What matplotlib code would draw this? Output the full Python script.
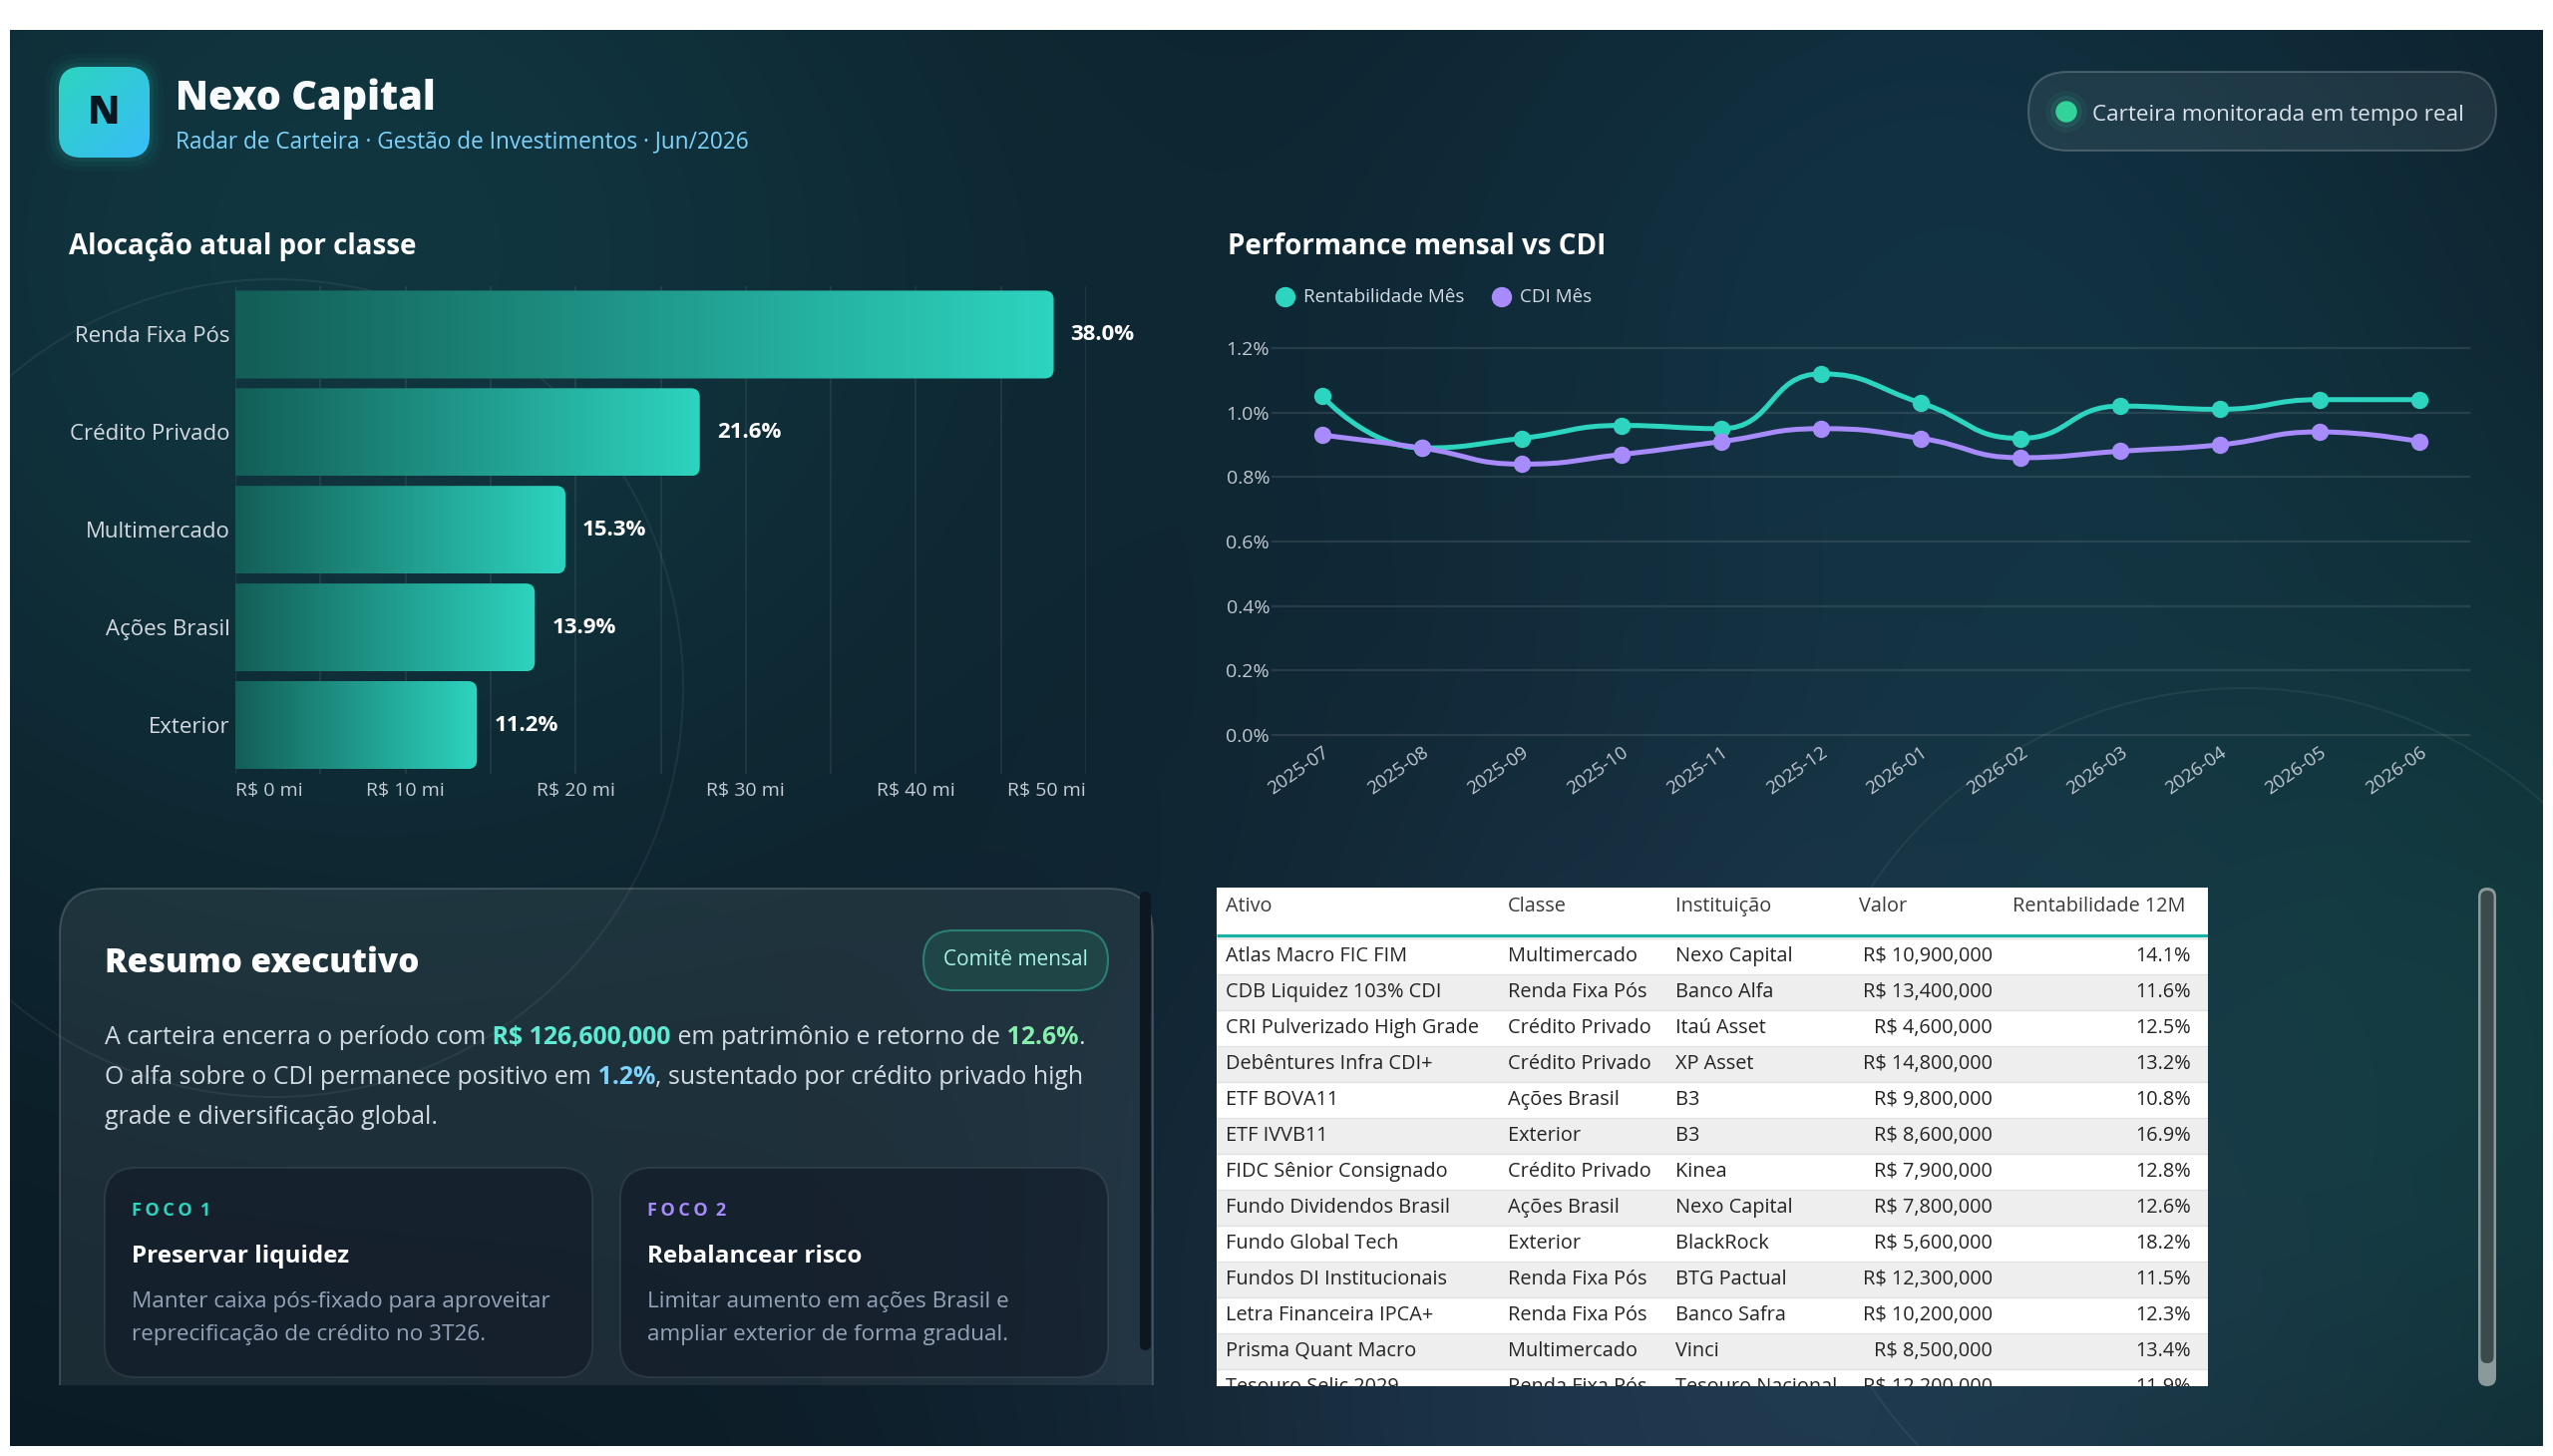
import numpy as np
import matplotlib.pyplot as plt
from matplotlib.patches import FancyBboxPatch, Circle, Rectangle, PathPatch
from matplotlib.path import Path
from matplotlib.colors import LinearSegmentedColormap
from matplotlib.transforms import ScaledTranslation

plt.rcParams['font.family'] = ['Open Sans', 'DejaVu Sans']

# ---------------- data ----------------
classes = ['Renda Fixa Pós', 'Crédito Privado', 'Multimercado', 'Ações Brasil', 'Exterior']
alloc_mi = [48.1, 27.3, 19.4, 17.6, 14.2]
alloc_pct = [38.0, 21.6, 15.3, 13.9, 11.2]
alloc_ticks = [0, 10, 20, 30, 40, 50]

months = ['2025-07', '2025-08', '2025-09', '2025-10', '2025-11', '2025-12',
          '2026-01', '2026-02', '2026-03', '2026-04', '2026-05', '2026-06']
rent_mes = [1.05, 0.89, 0.92, 0.96, 0.95, 1.12, 1.03, 0.92, 1.02, 1.01, 1.04, 1.04]
cdi_mes = [0.93, 0.89, 0.84, 0.87, 0.91, 0.95, 0.92, 0.86, 0.88, 0.90, 0.94, 0.91]
perf_ticks = [0.0, 0.2, 0.4, 0.6, 0.8, 1.0, 1.2]

tab_header = ['Ativo', 'Classe', 'Instituição', 'Valor', 'Rentabilidade 12M']
tab_ativo = ['Atlas Macro FIC FIM', 'CDB Liquidez 103% CDI', 'CRI Pulverizado High Grade',
             'Debêntures Infra CDI+', 'ETF BOVA11', 'ETF IVVB11', 'FIDC Sênior Consignado',
             'Fundo Dividendos Brasil', 'Fundo Global Tech', 'Fundos DI Institucionais',
             'Letra Financeira IPCA+', 'Prisma Quant Macro', 'Tesouro Selic 2029']
tab_classe = ['Multimercado', 'Renda Fixa Pós', 'Crédito Privado', 'Crédito Privado',
              'Ações Brasil', 'Exterior', 'Crédito Privado', 'Ações Brasil', 'Exterior',
              'Renda Fixa Pós', 'Renda Fixa Pós', 'Multimercado', 'Renda Fixa Pós']
tab_inst = ['Nexo Capital', 'Banco Alfa', 'Itaú Asset', 'XP Asset', 'B3', 'B3', 'Kinea',
            'Nexo Capital', 'BlackRock', 'BTG Pactual', 'Banco Safra', 'Vinci', 'Tesouro Nacional']
tab_valor = [10900000, 13400000, 4600000, 14800000, 9800000, 8600000, 7900000,
             7800000, 5600000, 12300000, 10200000, 8500000, 12200000]
tab_rent = [14.1, 11.6, 12.5, 13.2, 10.8, 16.9, 12.8, 12.6, 18.2, 11.5, 12.3, 13.4, 11.9]

patrimonio = 126600000
retorno_12m = 12.6
alfa_cdi = 1.2

TEAL = '#2dd4bf'
PURPLE = '#a78bfa'

W, H = 2560, 1460
fig = plt.figure(figsize=(W / 100, H / 100), dpi=100, facecolor='white')


def px_box(x0, y0, x1, y1):
    return [x0 / W, 1 - y1 / H, (x1 - x0) / W, (y1 - y0) / H]


def rbox(ax, x, y, w, h, r, **kw):
    p = FancyBboxPatch((x, y), w, h, boxstyle=f'round,pad=0,rounding_size={r}', **kw)
    ax.add_patch(p)
    return p


# ---------------- background overlay (pixel coords) ----------------
ov = fig.add_axes([0, 0, 1, 1])
ov.set_axis_off()

yy, xx = np.mgrid[30:1450:4, 10:2550:4].astype(float)
img = np.zeros(xx.shape + (3,)) + np.array([11, 26, 36], float)
glows = [((350, 250), 520, (6, 28, 28)),
         ((1950, 250), 450, (6, 22, 28)),
         ((1750, 1420), 460, (20, 28, 40)),
         ((2580, 1050), 400, (4, 26, 18))]
for (cx, cy), s, col in glows:
    g = np.exp(-((xx - cx) ** 2 + (yy - cy) ** 2) / (2 * s * s))
    img += g[..., None] * np.array(col, float)
ov.imshow(np.clip(img / 255, 0, 1), extent=(10, 2550, 1450, 30), interpolation='bilinear', zorder=0)
ov.set_xlim(0, W)
ov.set_ylim(H, 0)
ov.set_aspect('auto')

panel_clip = Rectangle((10, 30), 2540, 1420, transform=ov.transData)
for c in [Circle((275, 690), 410), Circle((2250, 1140), 450)]:
    c.set_facecolor('none')
    c.set_edgecolor((1, 1, 1, 0.06))
    c.set_linewidth(1.5)
    c.set_zorder(1)
    ov.add_patch(c)
    c.set_clip_path(panel_clip)

# header: logo
for k, a in [(14, 0.03), (9, 0.05), (4, 0.08)]:
    rbox(ov, 59 - k, 67 - k, 91 + 2 * k, 91 + 2 * k, 22 + k, facecolor=TEAL, alpha=a,
         edgecolor='none', zorder=2)
logo = rbox(ov, 59, 67, 91, 91, 22, facecolor='none', edgecolor='none', zorder=3)
lg = np.add.outer(np.linspace(0, 1, 64), np.linspace(0, 1, 64)) / 2
im = ov.imshow(lg, extent=(59, 150, 158, 67), cmap=LinearSegmentedColormap.from_list('lg', [TEAL, '#38bdf8']),
               interpolation='bilinear', zorder=3)
im.set_clip_path(logo)
ov.set_xlim(0, W)
ov.set_ylim(H, 0)
ov.set_aspect('auto')
ov.text(104.5, 114, 'N', color='#0b1620', fontsize=28, fontweight='heavy', ha='center', va='center', zorder=4)
ov.text(176, 110, 'Nexo Capital', color='#f8fafc', fontsize=28.5, fontweight='heavy', va='baseline', zorder=4)
ov.text(176, 148, 'Radar de Carteira · Gestão de Investimentos · Jun/2026', color='#7dd3fc',
        fontsize=16.3, va='baseline', zorder=4)

# status pill
rbox(ov, 2034, 72, 469, 79, 39.5, facecolor=(1, 1, 1, 0.07), edgecolor=(1, 1, 1, 0.2), lw=1.5, zorder=2)
for r, a in [(20, 0.06), (15, 0.1)]:
    ov.add_patch(Circle((2072, 112), r, color='#34d399', alpha=a, zorder=3))
ov.add_patch(Circle((2072, 112), 10, color='#34d399', zorder=3))
ov.text(2098, 121, 'Carteira monitorada em tempo real', color='#dbe3ea', fontsize=16.2,
        va='baseline', zorder=4)

# section titles
ov.text(69, 255, 'Alocação atual por classe', color='white', fontsize=20, fontweight='bold',
        va='baseline', zorder=4)
ov.text(1231, 255, 'Performance mensal vs CDI', color='white', fontsize=20, fontweight='bold',
        va='baseline', zorder=4)

# legend of line chart
ov.add_patch(Circle((1289, 298), 9.5, color=TEAL, zorder=4))
ov.text(1307, 298, 'Rentabilidade Mês', color='#d5dde5', fontsize=13.5, va='center', zorder=4)
ov.add_patch(Circle((1506, 298), 9.5, color=PURPLE, zorder=4))
ov.text(1524, 298, 'CDI Mês', color='#d5dde5', fontsize=13.5, va='center', zorder=4)

# ---------------- summary card ----------------
card_clip = Rectangle((0, 0), W, 1389, transform=ov.transData)
card = rbox(ov, 60, 891, 1096, 600, 45, facecolor=(1, 1, 1, 0.07), edgecolor=(1, 1, 1, 0.16),
            lw=1.5, zorder=2)
card.set_clip_path(card_clip)
rbox(ov, 1143, 894, 11, 460, 5.5, facecolor='#0e1720', edgecolor='none', zorder=3)

ov.text(105, 975, 'Resumo executivo', color='white', fontsize=24, fontweight='heavy',
        va='baseline', zorder=4)
rbox(ov, 926, 933, 185, 60, 30, facecolor='#1f4546', edgecolor='#2a7f73', lw=1.5, zorder=3)
ov.text(1018.5, 963, 'Comitê mensal', color='#a7f3e4', fontsize=15, ha='center', va='center', zorder=4)


def rich_line(x, y, parts, size):
    t = None
    for s, color, weight in parts:
        kw = dict(color=color, fontsize=size, fontweight=weight, zorder=4)
        if t is None:
            t = ov.text(x, y, s, va='baseline', ha='left', **kw)
        else:
            t = ov.annotate(s, xy=(1, 0), xycoords=t, va='bottom', ha='left', **kw)


body = '#d3dbe2'
rich_line(105, 1047, [('A carteira encerra o período com', body, 'normal'),
                      (f' R$ {patrimonio:,.0f}', '#5eead4', 'bold'),
                      (' em patrimônio e retorno de', body, 'normal'),
                      (f' {retorno_12m:.1f}%', '#86efac', 'bold'),
                      ('.', body, 'normal')], 17.9)
rich_line(105, 1087, [('O alfa sobre o CDI permanece positivo em', body, 'normal'),
                      (f' {alfa_cdi:.1f}%', '#7dd3fc', 'bold'),
                      (', sustentado por crédito privado high', body, 'normal')], 17.9)
rich_line(105, 1127, [('grade e diversificação global.', body, 'normal')], 17.9)

focus = [(105, 'F\u2009O\u2009C\u2009O\u2009 1', TEAL, 'Preservar liquidez',
          ['Manter caixa pós-fixado para aproveitar', 'reprecificação de crédito no 3T26.']),
         (622, 'F\u2009O\u2009C\u2009O\u2009 2', PURPLE, 'Rebalancear risco',
          ['Limitar aumento em ações Brasil e', 'ampliar exterior de forma gradual.'])]
for fx, tag, tcol, ttl, desc in focus:
    rbox(ov, fx, 1171, 489, 210, 32, facecolor=(0.06, 0.09, 0.14, 0.55),
         edgecolor=(1, 1, 1, 0.08), lw=1.5, zorder=3)
    ov.text(fx + 27, 1219, tag, color=tcol, fontsize=13, fontweight='bold', va='baseline', zorder=4)
    ov.text(fx + 27, 1266, ttl, color='white', fontsize=17.5, fontweight='bold', va='baseline', zorder=4)
    for j, line in enumerate(desc):
        ov.text(fx + 27, 1311 + 33 * j, line, color='#94a3b8', fontsize=16.2, va='baseline', zorder=4)

# table scrollbar
rbox(ov, 2485, 890, 18, 500, 9, facecolor='#8a9a9b', edgecolor='none', zorder=3)
rbox(ov, 2487.5, 893, 13, 474, 6.5, facecolor='#3b4a4b', edgecolor='none', zorder=3)

# ---------------- bar chart ----------------
axb = fig.add_axes(px_box(236, 286.5, 1089, 776))
axb.patch.set_alpha(0)
yk = np.arange(len(classes))
bars = axb.barh(yk, alloc_mi, height=0.9, color='none', edgecolor='none')
axb.set_xlim(0, 50)
axb.set_ylim(len(classes) - 0.5, -0.5)
ppx = (1089 - 236) / 50
ppy = (776 - 286.5) / len(classes)
cmap_bar = LinearSegmentedColormap.from_list('bar', ['#135e57', TEAL])
grad = np.linspace(0, 1, 256).reshape(1, -1)
for b in bars:
    x0, w, ya, hh = b.get_x(), b.get_width(), b.get_y(), b.get_height()
    x1, yb = x0 + w, ya + hh
    rx, ry = 9 / ppx, 9 / ppy
    verts = [(x0, ya), (x1 - rx, ya), (x1, ya), (x1, ya + ry), (x1, yb - ry), (x1, yb),
             (x1 - rx, yb), (x0, yb), (x0, ya)]
    codes = [Path.MOVETO, Path.LINETO, Path.CURVE3, Path.CURVE3, Path.LINETO, Path.CURVE3,
             Path.CURVE3, Path.LINETO, Path.CLOSEPOLY]
    shape = PathPatch(Path(verts, codes), facecolor='none', edgecolor='none')
    axb.add_patch(shape)
    gi = axb.imshow(grad, extent=[x0, x1, yb, ya], aspect='auto', cmap=cmap_bar,
                    interpolation='bilinear', zorder=2)
    gi.set_clip_path(shape)
axb.set_xlim(0, 50)
axb.set_ylim(len(classes) - 0.5, -0.5)

for i, (v, p) in enumerate(zip(alloc_mi, alloc_pct)):
    axb.text(v + 17 / ppx, i, f'{p:.1f}%', color='white', fontsize=16, fontweight='bold',
             va='center', ha='left', clip_on=False)

axb.set_xticks(alloc_ticks, [f'R$ {v} mi' for v in alloc_ticks])
axb.set_xticks(np.arange(5, 50, 10), minor=True)
lbls = axb.get_xticklabels()
lbls[0].set_ha('left')
lbls[-1].set_ha('right')
axb.tick_params(axis='x', which='both', length=0, pad=6, labelsize=14, labelcolor='#c3ccd5')
axb.set_yticks(yk, classes)
axb.tick_params(axis='y', length=0, pad=4, labelsize=16, labelcolor='#d4dae0')
axb.grid(axis='x', which='both', color='white', alpha=0.08, lw=1.3)
axb.set_axisbelow(True)
for s in axb.spines.values():
    s.set_visible(False)

# ---------------- line chart ----------------
axl = fig.add_axes(px_box(1276, 349, 2476, 737))
axl.patch.set_alpha(0)
xk = np.arange(len(months))
axl.set_xlim(-0.5, len(months) - 0.5)
axl.set_ylim(0, 1.2)
for v in perf_ticks:
    axl.axhline(v, color='white', alpha=0.1, lw=1.6, clip_on=False, zorder=0)


def smooth_path(ax, xs, ys, smooth=0.5):
    pts = ax.transData.transform(np.column_stack([xs, ys]))
    n = len(pts)
    cin = [p.copy() for p in pts]
    cout = [p.copy() for p in pts]
    for i in range(1, n - 1):
        p, prev, nxt = pts[i], pts[i - 1], pts[i + 1]
        d0 = np.hypot(*(p - prev))
        d1 = np.hypot(*(nxt - p))
        ratio = d1 / (d0 + d1)
        v = nxt - prev
        co = p + v * smooth * ratio
        co = np.clip(co, np.minimum(p, nxt), np.maximum(p, nxt))
        ci = p - (co - p) * d0 / d1
        ci = np.clip(ci, np.minimum(p, prev), np.maximum(p, prev))
        co = p + (p - ci) * d1 / d0
        cin[i], cout[i] = ci, co
    verts = [pts[0]]
    codes = [Path.MOVETO]
    for i in range(n - 1):
        verts += [cout[i], cin[i + 1], pts[i + 1]]
        codes += [Path.CURVE4] * 3
    return Path(ax.transData.inverted().transform(np.array(verts)), codes)


for vals, col in [(rent_mes, TEAL), (cdi_mes, PURPLE)]:
    axl.add_patch(PathPatch(smooth_path(axl, xk, vals), facecolor='none', edgecolor=col,
                            lw=3.6, capstyle='round', joinstyle='round', zorder=3))
    axl.plot(xk, vals, 'o', ms=11.5, color=col, zorder=4, clip_on=False)

axl.set_xticks(xk, months, rotation=35, ha='right', rotation_mode='anchor')
for lbl in axl.get_xticklabels():
    lbl.set_transform(lbl.get_transform() + ScaledTranslation(7 / 100, 0, fig.dpi_scale_trans))
axl.set_yticks(perf_ticks, [f'{v:.1f}%' for v in perf_ticks])
axl.tick_params(axis='both', length=0, labelsize=14, labelcolor='#c0c8d0')
axl.tick_params(axis='x', pad=6, labelsize=13.5)
axl.tick_params(axis='y', pad=2)
for s in axl.spines.values():
    s.set_visible(False)

# ---------------- table ----------------
tb = fig.add_axes(px_box(1220, 890, 2214, 1390))
tb.set_xlim(0, 994)
tb.set_ylim(500, 0)
tb.set_axis_off()
tb.add_patch(Rectangle((0, 0), 994, 500, facecolor='white', edgecolor='none', zorder=0))
head_x = [9, 292, 460, 644, 798]
for hx, hs in zip(head_x, tab_header):
    tb.text(hx, 19, hs, color='#3a3a3a', fontsize=14.3, va='center', ha='left')
tb.plot([0, 994], [48, 48], color='#16b3a5', lw=2.3, solid_capstyle='butt')

col_x = [9, 292, 460, 778, 977]
col_ha = ['left', 'left', 'left', 'right', 'right']
for i in range(len(tab_ativo)):
    yc = 69 + 36 * i
    if i % 2 == 1:
        tb.add_patch(Rectangle((0, yc - 18), 994, 36, facecolor='#eeeeee', edgecolor='none', zorder=0))
    tb.plot([0, 994], [yc - 18, yc - 18], color='#e2e2e2', lw=1, zorder=1)
    cells = [tab_ativo[i], tab_classe[i], tab_inst[i], f'R$ {tab_valor[i]:,.0f}', f'{tab_rent[i]:.1f}%']
    for cx, ha, s in zip(col_x, col_ha, cells):
        tb.text(cx, yc, s, color='#252423', fontsize=14.3, va='center', ha=ha, clip_on=True, zorder=2)

fig.savefig('out.png', dpi=100, facecolor='white')
